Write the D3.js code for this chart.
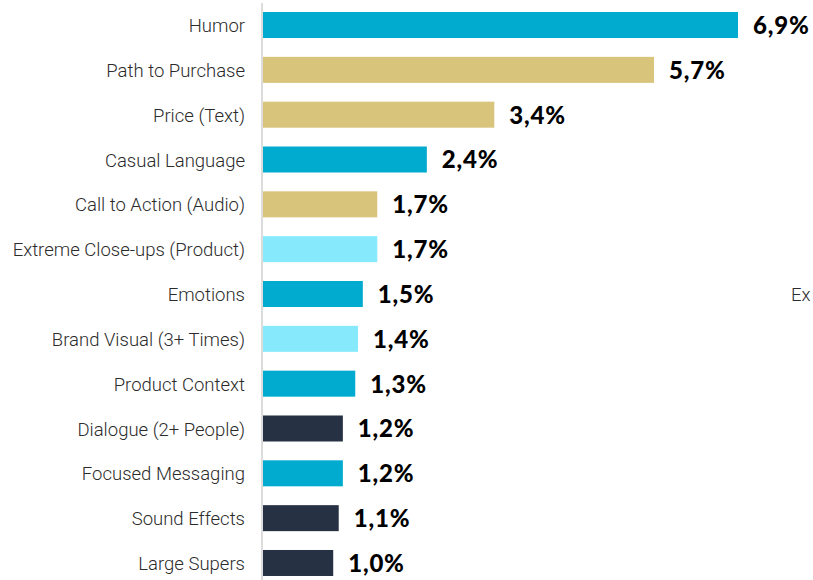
<!DOCTYPE html>
<html>
<head>
<meta charset="utf-8">
<script src="https://cdn.jsdelivr.net/npm/d3@7/dist/d3.min.js"></script>
<style>
  html, body { margin: 0; padding: 0; background: #fff; overflow: hidden; }
  svg { display: block; }
</style>
</head>
<body>
<svg id="chart" width="813" height="580"></svg>
<script>
const categories = ["Humor", "Path to Purchase", "Price (Text)", "Casual Language", "Call to Action (Audio)",
  "Extreme Close-ups (Product)", "Emotions", "Brand Visual (3+ Times)", "Product Context",
  "Dialogue (2+ People)", "Focused Messaging", "Sound Effects", "Large Supers"];
const values = [6.9, 5.68, 3.36, 2.38, 1.66, 1.66, 1.45, 1.38, 1.34, 1.16, 1.16, 1.10, 1.02];
const valueLabels = ["6,9%", "5,7%", "3,4%", "2,4%", "1,7%", "1,7%", "1,5%", "1,4%", "1,3%", "1,2%", "1,2%", "1,1%", "1,0%"];
const groups = ["cyan", "tan", "tan", "cyan", "tan", "light", "cyan", "light", "cyan", "dark", "cyan", "dark", "dark"];
const groupNames = ["cyan", "tan", "light", "dark"];
const groupColors = ["#00abcf", "#d8c47a", "#87eafc", "#263244"];
const sideNote = "Ex";

const svg = d3.select("#chart");
const x0 = 263;
const x = d3.scaleLinear().domain([0, 6.9]).range([x0, 738]);
const y = d3.scaleBand().domain(categories).range([2.6, 585.4]).paddingInner(0.42).paddingOuter(0.21);
const color = d3.scaleOrdinal().domain(groupNames).range(groupColors);

const data = categories.map((c, i) => ({ c, v: values[i], l: valueLabels[i], g: groups[i] }));

// vertical axis line
svg.append("line")
  .attr("x1", 262).attr("x2", 262)
  .attr("y1", 3).attr("y2", 580)
  .attr("stroke", "#dcdcdc").attr("stroke-width", 2);

svg.selectAll("rect.bar").data(data).join("rect")
  .attr("class", "bar")
  .attr("x", x0)
  .attr("y", d => y(d.c))
  .attr("width", d => x(d.v) - x0)
  .attr("height", y.bandwidth())
  .attr("fill", d => color(d.g));

svg.selectAll("text.cat").data(data).join("text")
  .attr("class", "cat")
  .attr("x", 245)
  .attr("y", d => y(d.c) + y.bandwidth() / 2)
  .attr("dy", "0.38em")
  .attr("text-anchor", "end")
  .attr("font-family", "Roboto, sans-serif")
  .attr("font-weight", 300)
  .attr("font-size", 18.5)
  .attr("fill", "#2b2b2b")
  .text(d => d.c);

svg.selectAll("text.val").data(data).join("text")
  .attr("class", "val")
  .attr("x", d => x(d.v) + 15)
  .attr("y", d => y(d.c) + y.bandwidth() / 2)
  .attr("dy", "0.37em")
  .attr("font-family", "Lato, sans-serif")
  .attr("font-weight", 900)
  .attr("font-size", 24)
  .attr("letter-spacing", 0.8)
  .attr("fill", "#000")
  .text(d => d.l);

svg.append("text")
  .attr("x", 791)
  .attr("y", y("Emotions") + y.bandwidth() / 2)
  .attr("dy", "0.38em")
  .attr("font-family", "Roboto, sans-serif")
  .attr("font-weight", 300)
  .attr("font-size", 18.5)
  .attr("fill", "#2b2b2b")
  .text(sideNote);
</script>
</body>
</html>
